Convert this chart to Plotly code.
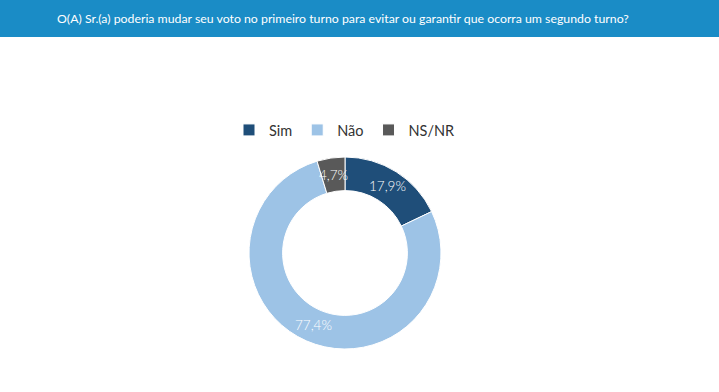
import math
import plotly.graph_objects as go

labels = ["Sim", "Não", "NS/NR"]
values = [17.9, 77.4, 4.7]
text_labels = ["17,9%", "77,4%", "4,7%"]
colors = ["#1f4e79", "#9dc3e6", "#595959"]
title = "O(A) Sr.(a) poderia mudar seu voto no primeiro turno para evitar ou garantir que ocorra um segundo turno?"

W, H = 719, 392
CX, CY, R_OUT, HOLE = 345, 253, 96, 0.65

fig = go.Figure(go.Pie(
    labels=labels,
    values=values,
    textinfo="none",
    hole=HOLE,
    sort=False,
    direction="clockwise",
    rotation=0,
    marker=dict(colors=colors, line=dict(color="white", width=1)),
    domain=dict(x=[(CX - R_OUT) / W, (CX + R_OUT) / W],
                y=[(H - CY - R_OUT) / H, (H - CY + R_OUT) / H]),
))

# slice labels at the middle of each arc, halfway through the ring
total = sum(values)
r_mid = R_OUT * (1 + HOLE) / 2
cum = 0.0
for v, t in zip(values, text_labels):
    ang = 2 * math.pi * (cum + v / 2) / total
    cum += v
    px = CX + r_mid * math.sin(ang)
    py = CY - r_mid * math.cos(ang)
    fig.add_annotation(xref="paper", yref="paper", x=px / W, y=1 - py / H,
                       xanchor="center", yanchor="middle", showarrow=False, text=t,
                       font=dict(family="Lato", size=13.5, color="white", weight=300))

fig.add_shape(type="rect", xref="paper", yref="paper", x0=0, x1=1,
              y0=1 - 37 / H, y1=1, fillcolor="#1a8cc6", line=dict(width=0), layer="below")
fig.add_annotation(xref="paper", yref="paper", x=55 / W, y=1 - 18.5 / H,
                   xanchor="left", yanchor="middle", showarrow=False,
                   text=title, font=dict(family="Lato", size=12.3, color="white"))

fig.update_layout(
    width=W, height=H,
    margin=dict(l=0, r=0, t=0, b=0),
    paper_bgcolor="white",
    plot_bgcolor="white",
    showlegend=True,
    legend=dict(orientation="h", x=229 / W, y=1 - 130 / H, xanchor="left", yanchor="middle",
                font=dict(family="Lato", size=14.5, color="#333333"), itemwidth=30,
                traceorder="normal"),
)

fig.write_html("out.html", config={"displayModeBar": False},
               post_script="document.body.style.margin='0';")
